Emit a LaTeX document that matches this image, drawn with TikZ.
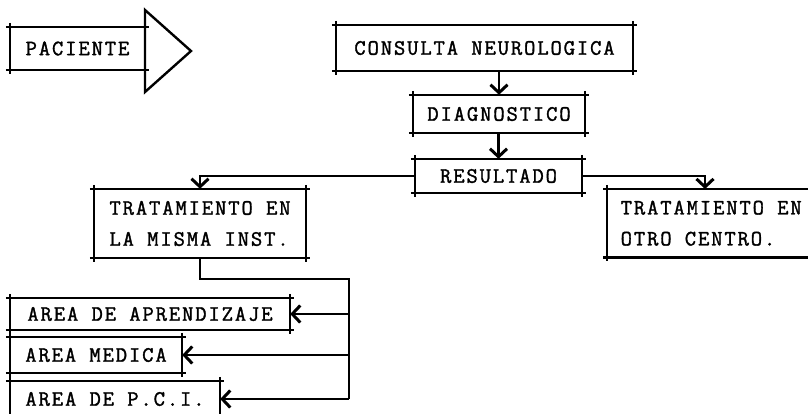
\documentclass[tikz,border=0pt]{standalone}
\usepackage{fontspec}
\newfontfamily\typefont{Latin Modern Mono}[LetterSpace=8.5, FakeBold=1.5]
\usetikzlibrary{arrows.meta}

\begin{document}
\begin{tikzpicture}[x=1pt, y=-1pt,
        every node/.style={font=\typefont\fontsize{22}{31}\selectfont}]
        \tikzstyle{boxStyle} = [rectangle, inner sep=0pt, align=left]
        \tikzstyle{boxSide} = [draw=black, line width=2.4pt, shorten <=-4pt, shorten >=-4pt]
        \tikzstyle{blackEdge} = [draw=black, line width=2.4pt]
        \tikzstyle{arrowEdge} = [blackEdge, -{Straight Barb[length=8pt, width=17pt, line width=3pt]}]
        \clip (0,0) rectangle (808,414);
        \node[boxStyle, minimum width=135pt, minimum height=43pt] (paciente) at (77.5,48.5) {PACIENTE};
        \coordinate (tipTop) at (145,10);
        \coordinate (tip) at (191,51);
        \coordinate (tipBot) at (145,92);
        \node[boxStyle, minimum width=297pt, minimum height=46pt] (consulta) at (484.5,48) {CONSULTA NEUROLOGICA};
        \node[boxStyle, minimum width=172pt, minimum height=38pt] (diag) at (499,114) {DIAGNOSTICO};
        \node[boxStyle, minimum width=167pt, minimum height=34pt] (resultado) at (498.5,176) {RESULTADO};
        \node[boxStyle, minimum width=212pt, minimum height=69pt] (misma) at (200,223.5) {TRATAMIENTO EN\\LA MISMA INST.};
        \node[boxStyle, anchor=north west, minimum width=208pt, minimum height=68pt] (otro) at (607,189) {TRATAMIENTO EN\\OTRO CENTRO.};
        \node[boxStyle, minimum width=280pt, minimum height=32pt] (aprend) at (150,314) {AREA DE APRENDIZAJE};
        \node[boxStyle, minimum width=172pt, minimum height=36pt] (medica) at (96,355) {AREA MEDICA};
        \node[boxStyle, minimum width=210pt, minimum height=36pt] (pci) at (115,399) {AREA DE P.C.I.};
        \foreach \n in {paciente,consulta,diag,resultado,misma,otro,aprend,medica,pci} {
            \path[boxSide] (\n.north west) -- (\n.north east);
            \path[boxSide] (\n.south west) -- (\n.south east);
            \path[boxSide] (\n.north west) -- (\n.south west);
            \path[boxSide] (\n.north east) -- (\n.south east);
        }
        \path[blackEdge] (tipTop) -- (tip) -- (tipBot) -- cycle;
        \path[arrowEdge] (diag.north |- consulta.south) -- (diag.north);
        \path[arrowEdge] (resultado.north |- diag.south) -- (resultado.north);
        \path[arrowEdge] (resultado.west) -| (misma.north);
        \coordinate (otroIn) at (705,189);
        \path[arrowEdge] (resultado.east) -| (otroIn);
        \coordinate (split) at (349,279);
        \path[blackEdge] (misma.south) |- (split) -- (split |- pci.east);
        \foreach \n in {aprend,medica,pci}
            \path[arrowEdge] (split |- \n.east) -- (\n.east);
\end{tikzpicture}
\end{document}
